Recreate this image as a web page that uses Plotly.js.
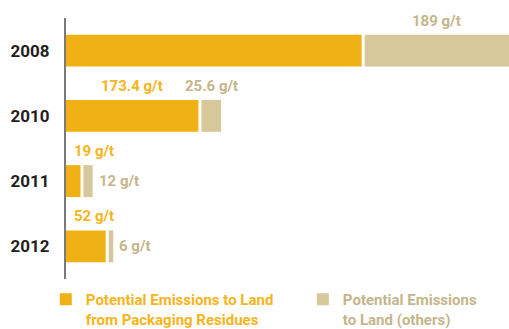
<!DOCTYPE html>
<html>
<head>
<meta charset="utf-8">
<script src="https://cdn.plot.ly/plotly-3.0.1.min.js"></script>
<style>
  html, body { margin: 0; padding: 0; background: #ffffff; }
  #chart { width: 509px; height: 329px; }
</style>
</head>
<body>
<div id="chart"></div>
<script>
// ---- data ----
const years = ['2008', '2010', '2011', '2012'];
const packaging = [387, 173.4, 19, 52];          // 2008 value not labelled
const others = [189, 25.6, 12, 6];
const packagingLabels = [null, '173.4 g/t', '19 g/t', '52 g/t'];
const othersLabels = ['189 g/t', '25.6 g/t', '12 g/t', '6 g/t'];
const seriesNames = ['Potential Emissions to Land<br>from Packaging Residues',
                     'Potential Emissions<br>to Land (others)'];

// ---- style ----
const FONT = 'Roboto, Arial, sans-serif';
const ORANGE = '#F0B114';
const BEIGE = '#D6C89A';
const ORANGE_TXT = '#F7B41C';
const BEIGE_TXT = '#C4B68C';
const GAP = 3.9;   // white gap between segments, in axis units (~3px)

const maxTotal = Math.max(...packaging.map((v, i) => v + GAP + others[i]));
const otherBase = packaging.map(v => v + GAP);

const traces = [
  {
    type: 'bar', orientation: 'h', y: years, x: packaging, base: 0,
    width: 0.49,
    marker: { color: ORANGE },
    name: '<span style="color:' + ORANGE_TXT + '">' + seriesNames[0] + '</span>',
    legend: 'legend',
    hoverinfo: 'skip'
  },
  {
    type: 'bar', orientation: 'h', y: years, x: others, base: otherBase,
    width: 0.49,
    marker: { color: BEIGE },
    name: '<span style="color:' + BEIGE_TXT + '">' + seriesNames[1] + '</span>',
    legend: 'legend2',
    hoverinfo: 'skip'
  }
];

const annotations = [];
const labFont = (c) => ({ family: FONT, size: 15, color: c, weight: 700 });
years.forEach((yr, i) => {
  const p = packaging[i], o = others[i];
  if (packagingLabels[i]) {
    if (p > 100) {
      annotations.push({ x: p / 2, y: i, xref: 'x', yref: 'y', text: packagingLabels[i],
        showarrow: false, xanchor: 'center', yanchor: 'middle', yshift: 30, font: labFont(ORANGE_TXT) });
    } else {
      annotations.push({ x: 0, y: i, xref: 'x', yref: 'y', text: packagingLabels[i],
        showarrow: false, xanchor: 'left', yanchor: 'middle', xshift: 6, yshift: 30, font: labFont(ORANGE_TXT) });
    }
  }
  if (othersLabels[i]) {
    if (o > 20) {
      annotations.push({ x: otherBase[i] + o / 2, y: i, xref: 'x', yref: 'y', text: othersLabels[i],
        showarrow: false, xanchor: 'center', yanchor: 'middle', yshift: 30, font: labFont(BEIGE_TXT) });
    } else {
      annotations.push({ x: otherBase[i] + o, y: i, xref: 'x', yref: 'y', text: othersLabels[i],
        showarrow: false, xanchor: 'left', yanchor: 'middle', xshift: 4, yshift: 0, font: labFont(BEIGE_TXT) });
    }
  }
});

const legendBase = {
  orientation: 'h', xref: 'container', yref: 'container',
  xanchor: 'left', y: 0.14, yanchor: 'top',
  valign: 'top', itemclick: false, itemdoubleclick: false,
  font: { family: FONT, size: 15, weight: 700 },
  bgcolor: 'rgba(0,0,0,0)'
};

const layout = {
  width: 509, height: 329,
  margin: { l: 66, r: 0, t: 18, b: 50, pad: 0 },
  paper_bgcolor: '#ffffff', plot_bgcolor: '#ffffff',
  barmode: 'overlay',
  showlegend: true,
  xaxis: {
    range: [0, maxTotal], visible: false, fixedrange: true
  },
  yaxis: {
    type: 'category', range: [3.5, -0.5],
    showline: true, linecolor: '#7a7a7a', linewidth: 2,
    showgrid: false, zeroline: false, ticks: '',
    ticklabelstandoff: 11,
    tickfont: { family: FONT, size: 17, color: '#231F20', weight: 700 },
    fixedrange: true
  },
  legend: Object.assign({}, legendBase, { x: 0.09 }),
  legend2: Object.assign({}, legendBase, { x: 0.595 }),
  annotations: annotations
};

Plotly.newPlot('chart', traces, layout, { displayModeBar: false, staticPlot: true });
</script>
</body>
</html>
